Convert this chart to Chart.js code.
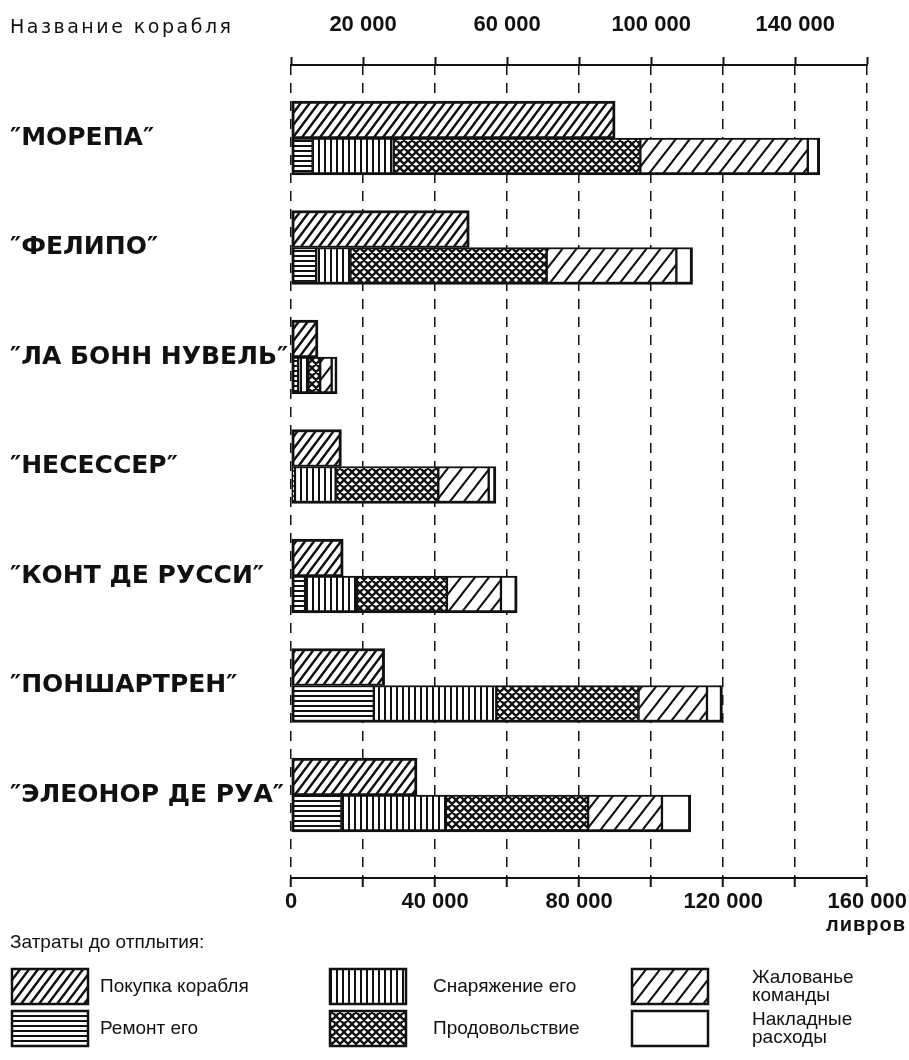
<!DOCTYPE html>
<html>
<head>
<meta charset="utf-8">
<script src="https://cdn.jsdelivr.net/npm/chart.js@4/dist/chart.umd.min.js"></script>
<style>
  html, body { margin: 0; background: #fff; }
</style>
</head>
<body>
<canvas id="ships" width="909" height="1060"></canvas>
<script>
var ships = ['″МОРЕПА″', '″ФЕЛИПО″', '″ЛА БОНН НУВЕЛЬ″', '″НЕСЕССЕР″', '″КОНТ ДЕ РУССИ″', '″ПОНШАРТРЕН″', '″ЭЛЕОНОР ДЕ РУА″']
var series = ['Покупка корабля', 'Ремонт его', 'Снаряжение его', 'Продовольствие', 'Жалованье\nкоманды', 'Накладные\nрасходы']

// livres spent before sailing
var purchase  = [90000, 49500, 7500, 14000, 14500, 26000, 35000]
var repair    = [6000, 7000, 2000, 1100, 3900, 23000, 14000]
var equipment = [22500, 9500, 2800, 11300, 14400, 34000, 29000]
var food      = [68500, 54500, 3300, 28500, 25000, 39500, 39500]
var wages     = [46500, 36000, 3200, 14000, 15000, 19000, 20500]
var overhead  = [3300, 4500, 1500, 2000, 4500, 4300, 8000]

var topTicks = [20000, 60000, 100000, 140000]
var bottomTicks = [0, 40000, 80000, 120000, 160000]

var ctx = document.getElementById('ships').getContext('2d')
var ink = '#111'

function tile(w, h, draw) {
	var c = document.createElement('canvas')
	c.width = w
	c.height = h
	var g = c.getContext('2d')
	g.fillStyle = '#fff'
	g.fillRect(0, 0, w, h)
	g.fillStyle = ink
	g.strokeStyle = ink
	draw(g, w, h)
	return ctx.createPattern(c, 'repeat')
}

function slant(w, h, lw, both) {
	return tile(w, h, function(g) {
		g.lineWidth = lw
		g.beginPath()
		;[-w, 0, w].forEach(function(dx) {
			g.moveTo(dx - w / 2, h * 1.5)
			g.lineTo(dx + w * 1.5, -h / 2)
			if (both) {
				g.moveTo(dx - w / 2, -h / 2)
				g.lineTo(dx + w * 1.5, h * 1.5)
			}
		})
		g.stroke()
	})
}

var fills = [
	slant(9, 12, 2.5),
	tile(5, 5, function(g) { g.fillRect(0, 0, 5, 2) }),
	tile(6, 6, function(g) { g.fillRect(0, 0, 2, 6) }),
	slant(8, 8, 2.3, true),
	slant(14, 18, 2),
	'#fff'
]

var values = [purchase, repair, equipment, food, wages, overhead]

function points(arr) {
	return arr.map(function(v, i) { return { x: v, y: i } })
}

// purchase is its own bar; the other costs are stacked below it
function edges(k) {
	return function() {
		if (k === 0) return { top: 3, bottom: 2, left: 3, right: 3 }
		return { top: 2, bottom: 3, left: k === 1 ? 3 : 1.5, right: k === 5 ? 3 : 1.5 }
	}
}

var datasets = values.map(function(arr, k) {
	return {
		label: series[k],
		data: points(arr),
		stack: k === 0 ? 'ship' : 'costs',
		backgroundColor: fills[k],
		borderColor: ink,
		borderWidth: edges(k),
		borderSkipped: false,
		barThickness: 37
	}
})

function spaced(v) {
	return String(v).replace(/\B(?=(\d{3})+(?!\d))/g, ' ')
}

var extras = {
	id: 'extras',
	afterDraw: function(chart) {
		var c = chart.ctx
		c.save()
		c.fillStyle = ink
		c.textBaseline = 'middle'
		c.textAlign = 'left'
		c.letterSpacing = '2.5px'
		c.font = '19px "DejaVu Sans"'
		c.fillText('Название корабля', 10, 28)

		c.textAlign = 'right'
		c.letterSpacing = '1px'
		c.font = 'bold 20px "Liberation Sans"'
		c.fillText('ливров', 906, 925)

		c.textAlign = 'left'
		c.letterSpacing = '0px'
		c.font = '19px "Liberation Sans"'
		c.fillText('Затраты до отплытия:', 10, 943)

		var cols = [12, 330, 632]
		var textX = [100, 433, 752]
		var rows = [969, 1011]
		chart.data.datasets.forEach(function(ds, i) {
			var col = Math.floor(i / 2)
			var x = cols[col]
			var y = rows[i % 2]
			c.fillStyle = ds.backgroundColor
			c.fillRect(x, y, 76, 35)
			c.lineWidth = 2.5
			c.strokeStyle = ink
			c.strokeRect(x, y, 76, 35)
			c.fillStyle = ink
			c.font = '19px "Liberation Sans"'
			var lines = ds.label.split('\n')
			lines.forEach(function(t, n) {
				c.fillText(t, textX[col], y + 17.5 + (n - (lines.length - 1) / 2) * 18)
			})
		})
		c.restore()
	}
}

var axisFont = { family: '"Liberation Sans"', size: 22, weight: 'bold' }

var chart = new Chart(ctx, {
	type: 'bar',
	data: { datasets: datasets },
	plugins: [extras],
	options: {
		indexAxis: 'y',
		responsive: false,
		animation: false,
		devicePixelRatio: 1,
		layout: { padding: { left: 10, right: 37, top: 0, bottom: 142 } },
		plugins: { legend: { display: false }, tooltip: { enabled: false } },
		scales: {
			y: {
				type: 'linear',
				reverse: true,
				offset: false,
				min: -0.667,
				max: 6.758,
				grid: { display: false, offset: false },
				border: { display: false },
				afterBuildTicks: function(s) {
					s.ticks = ships.map(function(_, i) { return { value: i } })
				},
				afterFit: function(s) { s.width = 281 },
				ticks: {
					autoSkip: false,
					crossAlign: 'far',
					padding: 0,
					color: ink,
					font: { family: '"DejaVu Sans"', size: 25, weight: 'bold' },
					callback: function(v) { return ships[v] }
				}
			},
			x: {
				type: 'linear',
				position: 'bottom',
				min: 0,
				max: 160000,
				afterFit: function(s) { s.height = 40 },
				border: { display: true, color: ink, width: 2, dash: [10, 8] },
				grid: { color: ink, lineWidth: 1.5, tickLength: 9, tickColor: ink, tickWidth: 2, tickBorderDash: [] },
				ticks: {
					stepSize: 20000,
					maxRotation: 0,
					autoSkip: false,
					padding: 2,
					color: ink,
					font: axisFont,
					callback: function(v) { return bottomTicks.indexOf(v) >= 0 ? spaced(v) : '' }
				}
			},
			x2: {
				type: 'linear',
				position: 'top',
				min: 0,
				max: 160000,
				afterFit: function(s) { s.height = 65 },
				border: { display: true, color: ink, width: 2 },
				grid: { drawOnChartArea: false, tickLength: 8, tickColor: ink, tickWidth: 2 },
				ticks: {
					stepSize: 20000,
					maxRotation: 0,
					autoSkip: false,
					padding: 19,
					color: ink,
					font: axisFont,
					callback: function(v) { return topTicks.indexOf(v) >= 0 ? spaced(v) : '' }
				}
			}
		}
	}
})
</script>
</body>
</html>
